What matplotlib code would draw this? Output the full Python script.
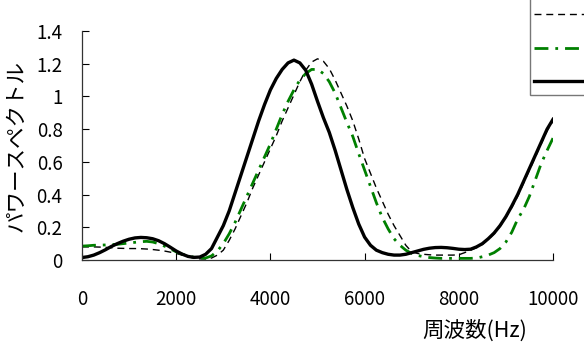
import matplotlib
matplotlib.use("Agg")
import matplotlib.pyplot as plt
from matplotlib.ticker import FuncFormatter

plt.rcParams['font.family'] = ['Noto Sans CJK JP', 'DejaVu Sans']

# frequency samples (Hz), every 125 Hz from 0 to 10000
freq = list(range(0, 10001, 125))

series_dashed = [
    0.08, 0.08, 0.08, 0.079, 0.077, 0.075, 0.072, 0.071,
    0.07, 0.07, 0.069, 0.067, 0.064, 0.06, 0.055, 0.048,
    0.04, 0.03, 0.02, 0.012, 0.007, 0.006, 0.012, 0.03,
    0.06, 0.12, 0.19, 0.27, 0.35, 0.44, 0.52, 0.60,
    0.68, 0.76, 0.85, 0.93, 1.01, 1.09, 1.16, 1.21,
    1.23, 1.215, 1.17, 1.10, 1.02, 0.94, 0.85, 0.74,
    0.62, 0.53, 0.44, 0.36, 0.28, 0.21, 0.15, 0.09,
    0.05, 0.04, 0.035, 0.032, 0.03, 0.03, 0.03, 0.03,
    0.032, 0.045, 0.06, 0.075, 0.095, 0.125, 0.16, 0.205,
    0.26, 0.32, 0.39, 0.47, 0.55, 0.63, 0.71, 0.79,
    0.85]

series_green = [
    0.085, 0.087, 0.09, 0.091, 0.092, 0.094, 0.096, 0.10,
    0.104, 0.108, 0.112, 0.114, 0.11, 0.10, 0.085, 0.068,
    0.05, 0.036, 0.025, 0.017, 0.012, 0.012, 0.025, 0.055,
    0.10, 0.16, 0.23, 0.31, 0.39, 0.47, 0.55, 0.63,
    0.71, 0.80, 0.89, 0.97, 1.04, 1.10, 1.14, 1.165,
    1.165, 1.14, 1.09, 1.02, 0.93, 0.84, 0.755, 0.65,
    0.55, 0.45, 0.35, 0.26, 0.19, 0.13, 0.09, 0.06,
    0.04, 0.028, 0.02, 0.015, 0.012, 0.01, 0.01, 0.01,
    0.01, 0.01, 0.01, 0.012, 0.02, 0.03, 0.045, 0.07,
    0.11, 0.17, 0.25, 0.31, 0.39, 0.49, 0.59, 0.67,
    0.745]

series_solid = [
    0.015, 0.02, 0.03, 0.045, 0.063, 0.083, 0.10, 0.115,
    0.127, 0.135, 0.138, 0.136, 0.13, 0.118, 0.10, 0.078,
    0.055, 0.036, 0.022, 0.016, 0.018, 0.035, 0.07, 0.14,
    0.21, 0.30, 0.41, 0.52, 0.63, 0.74, 0.85, 0.95,
    1.04, 1.11, 1.165, 1.205, 1.222, 1.205, 1.16, 1.075,
    0.97, 0.87, 0.78, 0.67, 0.55, 0.43, 0.32, 0.22,
    0.14, 0.09, 0.06, 0.045, 0.035, 0.03, 0.03, 0.035,
    0.045, 0.055, 0.065, 0.072, 0.076, 0.077, 0.075, 0.071,
    0.066, 0.064, 0.066, 0.08, 0.10, 0.13, 0.165, 0.21,
    0.265, 0.33, 0.40, 0.48, 0.56, 0.64, 0.72, 0.80,
    0.86]

labels = ["", "", ""]
yticks = [0, 0.2, 0.4, 0.6, 0.8, 1.0, 1.2, 1.4]
xticks = [0, 2000, 4000, 6000, 8000, 10000]

fig = plt.figure(figsize=(5.84, 3.47), dpi=100)
ax = fig.add_axes([82/584, 1 - 260/347, (553 - 82)/584, (260 - 31)/347])

l1, = ax.plot(freq, series_dashed, color='black', lw=1.0, linestyle=(0, (5, 3.5)))
l2, = ax.plot(freq, series_green, color='#008000', lw=2.0, linestyle=(0, (5, 2.5, 1, 2.5)))
l3, = ax.plot(freq, series_solid, color='black', lw=2.4)

ax.set_xlim(0, 10000)
ax.set_ylim(0, 1.4)
ax.set_xticks(xticks)
ax.set_yticks(yticks)

def fmt(v, pos):
    return ('%.1f' % v).rstrip('0').rstrip('.')

ax.yaxis.set_major_formatter(FuncFormatter(fmt))
ax.tick_params(axis='both', direction='in', length=5, width=0.8, labelsize=13.5, colors='black')
ax.tick_params(axis='x', pad=21)
ax.tick_params(axis='y', pad=14)
for sp in ['top', 'right']:
    ax.spines[sp].set_visible(False)
for sp in ['left', 'bottom']:
    ax.spines[sp].set_linewidth(0.9)
    ax.spines[sp].set_color('#333333')

ax.set_ylabel('パワースペクトル', fontsize=15.5)
ax.yaxis.set_label_coords(-0.115, 0.5)
ax.set_xlabel('周波数(Hz)', fontsize=15.5)
ax.xaxis.set_label_coords(0.834, -0.258)

leg = fig.legend(handles=[l1, l2, l3], labels=labels, loc='lower left',
                 bbox_to_anchor=(530/584, 1 - 95/347), fontsize=13,
                 handlelength=5, frameon=True, fancybox=False,
                 borderpad=0.2, labelspacing=0.85, borderaxespad=0,
                 handletextpad=0.5, title=' ', title_fontsize=10)
leg.get_frame().set_edgecolor('#555555')
leg.get_frame().set_linewidth(1.0)

fig.savefig('out.png', dpi=100)
